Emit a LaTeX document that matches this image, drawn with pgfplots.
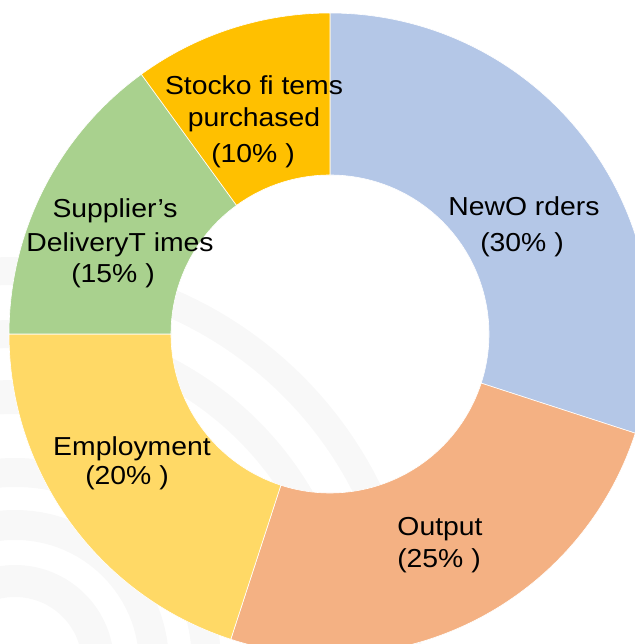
\documentclass[border=0pt]{standalone}
\usepackage{pgfplots}
\pgfplotsset{compat=1.18}
\usepackage{pgfplotstable}
\usepackage{fontspec}
\setmainfont{Liberation Sans}
\definecolor{cBlue}{HTML}{B4C7E7}
\definecolor{cOrange}{HTML}{F4B183}
\definecolor{cYellow}{HTML}{FFD966}
\definecolor{cGreen}{HTML}{A9D18E}
\definecolor{cGold}{HTML}{FFC000}
\definecolor{wm}{HTML}{F8F8F8}
\tikzset{lbl/.style={anchor=base, font=\fontsize{13}{15}\selectfont, xscale=1.09, text=black, inner sep=0pt}}
\pgfplotstableread[col sep=comma]{
label,value,color
New Orders,30,cBlue
Output,25,cOrange
Employment,20,cYellow
Supplier's Delivery Times,15,cGreen
Stock of items purchased,10,cGold
}\donutdata
\begin{document}
\begin{tikzpicture}
\begin{axis}[hide axis, scale only axis, width=317.5pt, height=322pt,
  xmin=0, xmax=635, ymin=-644, ymax=0, clip=true]
\addplot[draw=none, forget plot] coordinates {(0,0)};
\pgfplotsextra{
  \coordinate (W) at (axis cs:15,-664);
  \foreach \ro/\ri in {407/379,344/316,284/250,206/177,154/124,99/67}{
    \fill[wm, even odd rule] (W) circle[radius=\ro*0.5pt] circle[radius=\ri*0.5pt];
  }
  \coordinate (O) at (axis cs:330,-334);
  \gdef\astart{90}
  \pgfplotstablegetrowsof{\donutdata}\pgfmathtruncatemacro\nrows{\pgfplotsretval-1}
  \foreach \i in {0,...,\nrows}{
    \pgfplotstablegetelem{\i}{value}\of\donutdata \let\sval\pgfplotsretval
    \pgfplotstablegetelem{\i}{color}\of\donutdata \let\scol\pgfplotsretval
    \pgfmathsetmacro\aend{\astart-3.6*\sval}
    \fill[fill=\scol, draw=white, line width=0.3pt]
      ([shift={(\astart:160.5pt)}]O) arc[start angle=\astart, end angle=\aend, radius=160.5pt]
      -- ([shift={(\aend:79.5pt)}]O) arc[start angle=\aend, end angle=\astart, radius=79.5pt] -- cycle;
    \xdef\astart{\aend}
  }
}
\node[lbl] at (axis cs:254,-95) {Stocko fi tems};
\node[lbl] at (axis cs:254,-127) {purchased};
\node[lbl] at (axis cs:253,-163) {(10\% )};
\node[lbl] at (axis cs:524,-216) {NewO rders};
\node[lbl] at (axis cs:522,-252) {(30\% )};
\node[lbl] at (axis cs:115,-218) {Supplier’s};
\node[lbl] at (axis cs:120,-252) {DeliveryT imes};
\node[lbl] at (axis cs:113,-283) {(15\% )};
\node[lbl] at (axis cs:132,-456) {Employment};
\node[lbl] at (axis cs:127,-485) {(20\% )};
\node[lbl] at (axis cs:440,-536) {Output};
\node[lbl] at (axis cs:439,-568) {(25\% )};
\end{axis}
\pgfresetboundingbox
\path[use as bounding box] (current axis.south west) rectangle (current axis.north east);
\end{tikzpicture}
\end{document}
